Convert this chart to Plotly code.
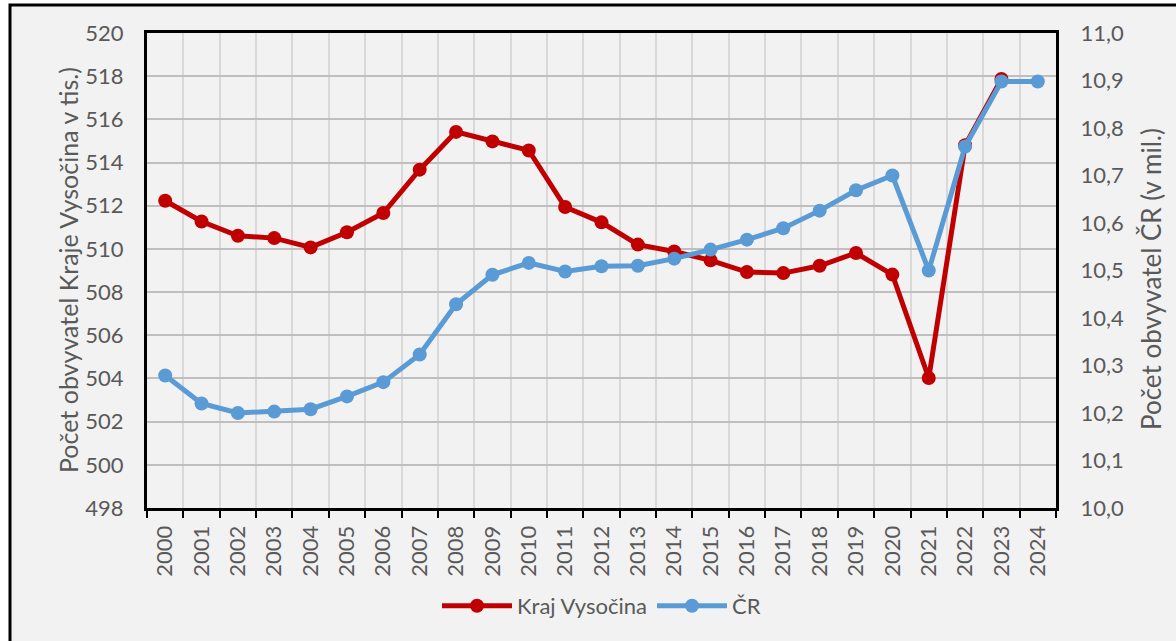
import plotly.graph_objects as go

years = [str(y) for y in range(2000, 2025)]
kraj_years = [str(y) for y in range(2000, 2024)]
kraj_vysocina = [512.23, 511.27, 510.61, 510.50, 510.07, 510.77, 511.66, 513.67, 515.42, 514.98,
                 514.56, 511.94, 511.23, 510.20, 509.88, 509.47, 508.93, 508.88, 509.22, 509.81,
                 508.81, 504.02, 514.80, 517.87]
cr = [10.279, 10.220, 10.200, 10.203, 10.208, 10.235, 10.265, 10.323, 10.429, 10.491,
      10.516, 10.498, 10.509, 10.510, 10.525, 10.544, 10.565, 10.589, 10.626, 10.669,
      10.700, 10.500, 10.761, 10.898, 10.898]

left_ticks = list(range(498, 521, 2))
right_ticks = [round(10.0 + 0.1 * i, 1) for i in range(11)]

W, H = 1176, 641
L, R, T, B = 147, 120, 33, 133
PW, PH = W - L - R, H - T - B


def px(x):
    return (x - L) / PW


def py(y):
    return (H - B - y) / PH


TXT = "#595959"
FONT = "Lato, 'Open Sans', sans-serif"
TICK = 22

fig = go.Figure()
fig.add_trace(go.Scatter(
    x=kraj_years, y=kraj_vysocina, name="Kraj Vysočina", mode="lines+markers",
    line=dict(color="#c00000", width=5), marker=dict(color="#c00000", size=14),
    yaxis="y",
))
fig.add_trace(go.Scatter(
    x=years, y=cr, name="ČR", mode="lines+markers",
    line=dict(color="#5b9bd5", width=5), marker=dict(color="#5b9bd5", size=14),
    yaxis="y2",
))

fig.update_layout(
    width=W, height=H,
    margin=dict(l=L, r=R, t=T, b=B, pad=0),
    paper_bgcolor="white",
    plot_bgcolor="white",
    separators=",.",
    font=dict(family=FONT, color=TXT, size=TICK),
    showlegend=True,
    legend=dict(orientation="h", x=0.5, xanchor="center", y=py(606), yanchor="middle",
                font=dict(size=22, color=TXT), bgcolor="rgba(0,0,0,0)", itemwidth=70),
    xaxis=dict(
        type="category", categoryorder="array", categoryarray=years,
        tickmode="array", tickvals=years, ticktext=years,
        tickson="boundaries", ticks="outside", ticklen=7, tickwidth=2, tickcolor="black",
        tickangle=-90, tickfont=dict(size=TICK, color=TXT),
        showgrid=True, gridcolor="#d9d9d9", gridwidth=2,
        showline=True, linecolor="black", linewidth=3, mirror=True,
        range=[-0.5, 24.5], ticklabelstandoff=6,
    ),
    yaxis=dict(
        range=[498, 520], tickmode="array", tickvals=left_ticks,
        ticktext=[str(v) for v in left_ticks],
        showgrid=True, gridcolor="#bfbfbf", gridwidth=2, zeroline=False,
        showline=True, linecolor="black", linewidth=3, mirror=True,
        ticks="", tickfont=dict(size=TICK, color=TXT), ticklabelstandoff=16,
    ),
    yaxis2=dict(
        range=[10.0, 11.0], overlaying="y", side="right", tickmode="array",
        tickvals=right_ticks, ticktext=[f"{v:.1f}".replace(".", ",") for v in right_ticks],
        showgrid=False, zeroline=False, showline=True, linecolor="black", linewidth=2,
        ticks="", tickfont=dict(size=TICK, color=TXT), ticklabelstandoff=18,
    ),
    shapes=[
        dict(type="rect", xref="paper", yref="paper", layer="below",
             x0=px(10), x1=px(1190), y0=py(5), y1=py(660),
             fillcolor="#f2f2f2", line=dict(color="black", width=3)),
    ],
    annotations=[
        dict(text="Počet obvyvatel Kraje Vysočina v tis.)", xref="paper", yref="paper",
             x=px(68), y=py(270), textangle=-90, showarrow=False,
             font=dict(size=25, color=TXT), xanchor="center", yanchor="middle"),
        dict(text="Počet obvyvatel ČR (v mil.)", xref="paper", yref="paper",
             x=px(1151), y=py(279), textangle=-90, showarrow=False,
             font=dict(size=26, color=TXT), xanchor="center", yanchor="middle"),
    ],
)

fig.write_html(
    "out.html",
    config={"displayModeBar": False},
    post_script="document.body.style.margin='0';document.body.style.overflow='hidden';",
)
